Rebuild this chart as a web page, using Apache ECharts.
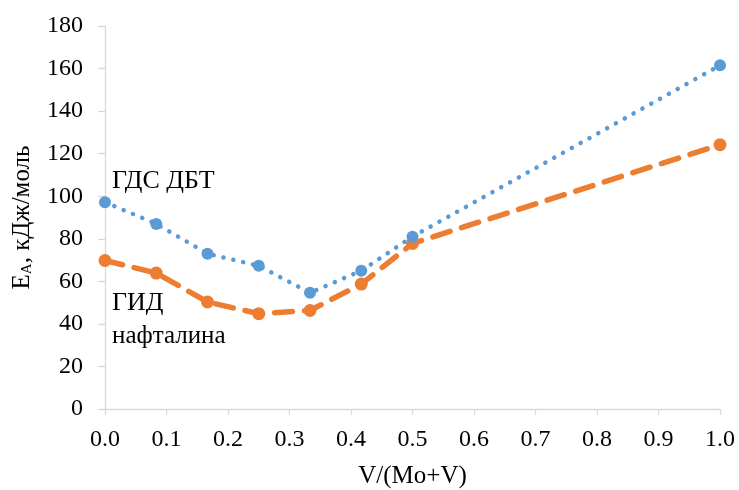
<!DOCTYPE html>
<html><head><meta charset="utf-8">
<script src="https://cdn.jsdelivr.net/npm/echarts@6/dist/echarts.min.js"></script>
<style>html,body{margin:0;padding:0;background:#fff}#c{width:739px;height:490px}</style>
</head><body><div id="c"></div>
<script>
const xValues = [0, 0.0833, 0.1667, 0.25, 0.3333, 0.4167, 0.5, 1.0];
const hdsDBT = [97.2, 87, 73, 67.3, 54.6, 65, 81, 161.5];
const hidNaph = [69.8, 63.9, 50.3, 44.8, 46.3, 58.7, 77.8, 124.2];
const seriesNames = ['ГДС ДБТ', 'ГИД нафталина'];
const FONT = '"Liberation Serif", "Times New Roman", serif';

const chart = echarts.init(document.getElementById('c'));
const pair = (ys) => xValues.map((x, i) => [x, ys[i]]);
chart.setOption({
  animation: false,
  grid: {left: 105, right: 19, top: 26, bottom: 81, containLabel: false, outerBoundsMode: 'none'},
  xAxis: {
    type: 'value', min: 0, max: 1, interval: 0.1,
    name: 'V/(Mo+V)', nameLocation: 'middle', nameGap: 55,
    nameTextStyle: {fontFamily: FONT, fontSize: 25, color: '#000'},
    axisLine: {show: true, lineStyle: {color: '#d9d9d9', width: 1.3}},
    axisTick: {show: true, length: 6, lineStyle: {color: '#d9d9d9', width: 1.3}},
    axisLabel: {fontFamily: FONT, fontSize: 24, color: '#000', margin: 19, formatter: v => v.toFixed(1)},
    splitLine: {show: false}
  },
  yAxis: {
    type: 'value', min: 0, max: 180, interval: 20,
    name: '{a|E}{s|A}{a|, кДж/моль}', nameLocation: 'middle', nameGap: 70, nameRotate: 90,
    nameTextStyle: {fontFamily: FONT, fontSize: 25, color: '#000',
      rich: {a: {fontFamily: FONT, fontSize: 25, color: '#000'}, s: {fontFamily: FONT, fontSize: 15, color: '#000', verticalAlign: 'bottom', padding: [10, 0, 0, 0]}}},
    axisLine: {show: true, lineStyle: {color: '#d9d9d9', width: 1.3}},
    axisTick: {show: true, length: 7, lineStyle: {color: '#d9d9d9', width: 1.3}},
    axisLabel: {fontFamily: FONT, fontSize: 24, color: '#000', margin: 22},
    splitLine: {show: false}
  },
  series: [
    {name: seriesNames[0], type: 'line', data: pair(hdsDBT), symbol: 'circle', symbolSize: 12,
      itemStyle: {color: '#5b9bd5'}, lineStyle: {color: '#5b9bd5', width: 4.5, type: [0.1, 10], cap: 'round'}, z: 3},
    {name: seriesNames[1], type: 'line', data: pair(hidNaph), symbol: 'circle', symbolSize: 13,
      itemStyle: {color: '#ed7d31'}, lineStyle: {color: '#ed7d31', width: 5.5, type: [18, 12], cap: 'round'}, z: 2}
  ],
  graphic: [
    {type: 'text', left: 112, top: 168, style: {text: 'ГДС ДБТ', fontFamily: FONT, fontSize: 26, fill: '#000'}},
    {type: 'text', left: 112, top: 290, style: {text: 'ГИД', fontFamily: FONT, fontSize: 26, fill: '#000'}},
    {type: 'text', left: 112, top: 324, style: {text: 'нафталина', fontFamily: FONT, fontSize: 25, fill: '#000'}}
  ]
});
</script></body></html>
